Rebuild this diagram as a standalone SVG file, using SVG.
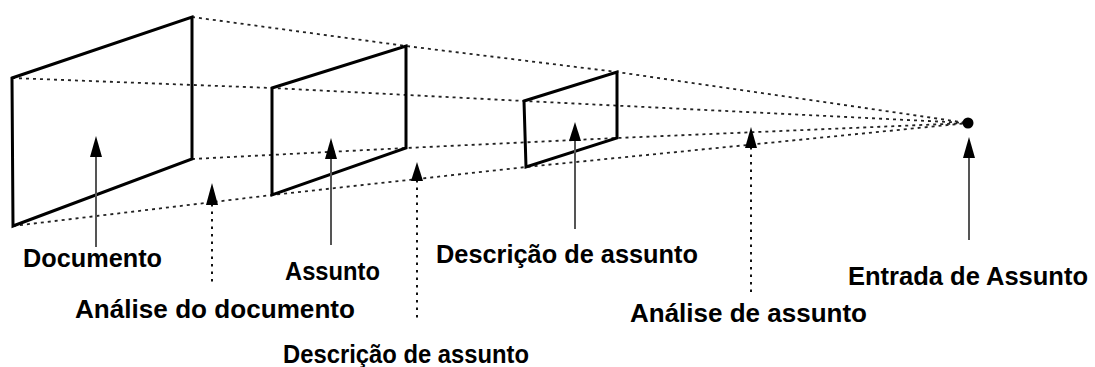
<svg xmlns="http://www.w3.org/2000/svg" width="1095" height="367" viewBox="0 0 1095 367">
<style>
.frame{fill:none;stroke:#000;stroke-width:3;stroke-linejoin:miter}
.ray{fill:none;stroke:#222;stroke-width:1.8;stroke-dasharray:3 4}
.shaft{stroke:#555;stroke-width:2;fill:none}
.dshaft{stroke:#111;stroke-width:2;stroke-dasharray:2.5 5;fill:none}
.head{fill:#000}
text{font-family:"Liberation Sans",Arial,sans-serif;font-weight:bold;font-size:26px;fill:#000}
</style>
<rect width="1095" height="367" fill="#fff"/>
<g id="connectors">
<polyline class="ray" points="192,17 406,46 617,72 968,123"/>
<polyline class="ray" points="12,78 272,88 524,101 968,123"/>
<polyline class="ray" points="192,159 406,148 617,138 968,123"/>
<polyline class="ray" points="13,226 272,195 526,167 968,123"/>
</g>
<g id="frame-documento"><polygon class="frame" points="12,78 192,17 192,159 13,226"/></g>
<g id="frame-assunto"><polygon class="frame" points="272,88 406,46 406,148 272,195"/></g>
<g id="frame-descricao"><polygon class="frame" points="524,101 617,72 617,138 526,167"/></g>
<g id="point-entrada"><circle cx="968" cy="123" r="5.5" fill="#000"/></g>
<g id="arrow-documento">
<line class="shaft" x1="96" y1="154" x2="96" y2="247"/>
<polygon class="head" points="96,136 90,157 102,157"/>
<text x="23" y="267" textLength="139" lengthAdjust="spacingAndGlyphs">Documento</text>
</g>
<g id="arrow-analise-documento">
<line class="dshaft" x1="212" y1="204" x2="212" y2="284"/>
<polygon class="head" points="212,183 206,205 218,205"/>
<text x="75" y="318" textLength="280" lengthAdjust="spacingAndGlyphs">Análise do documento</text>
</g>
<g id="arrow-assunto">
<line class="shaft" x1="331" y1="156" x2="331" y2="245"/>
<polygon class="head" points="331,138 325,159 337,159"/>
<text x="285" y="280" textLength="95" lengthAdjust="spacingAndGlyphs">Assunto</text>
</g>
<g id="arrow-descricao-inferior">
<line class="dshaft" x1="417" y1="180" x2="417" y2="321"/>
<polygon class="head" points="417,162 411,181 423,181"/>
<text x="283" y="363" textLength="246" lengthAdjust="spacingAndGlyphs">Descrição de assunto</text>
</g>
<g id="arrow-descricao-superior">
<line class="shaft" x1="575" y1="138" x2="575" y2="229"/>
<polygon class="head" points="575,122 569,141 581,141"/>
<text x="436" y="263" textLength="262" lengthAdjust="spacingAndGlyphs">Descrição de assunto</text>
</g>
<g id="arrow-analise-assunto">
<line class="dshaft" x1="751" y1="147" x2="751" y2="292"/>
<polygon class="head" points="751,127 745,148 757,148"/>
<text x="630" y="322" textLength="237" lengthAdjust="spacingAndGlyphs">Análise de assunto</text>
</g>
<g id="arrow-entrada">
<line class="shaft" x1="969" y1="155" x2="969" y2="240"/>
<polygon class="head" points="969,137 963,158 975,158"/>
<text x="848" y="285" textLength="240" lengthAdjust="spacingAndGlyphs">Entrada de Assunto</text>
</g>
</svg>
